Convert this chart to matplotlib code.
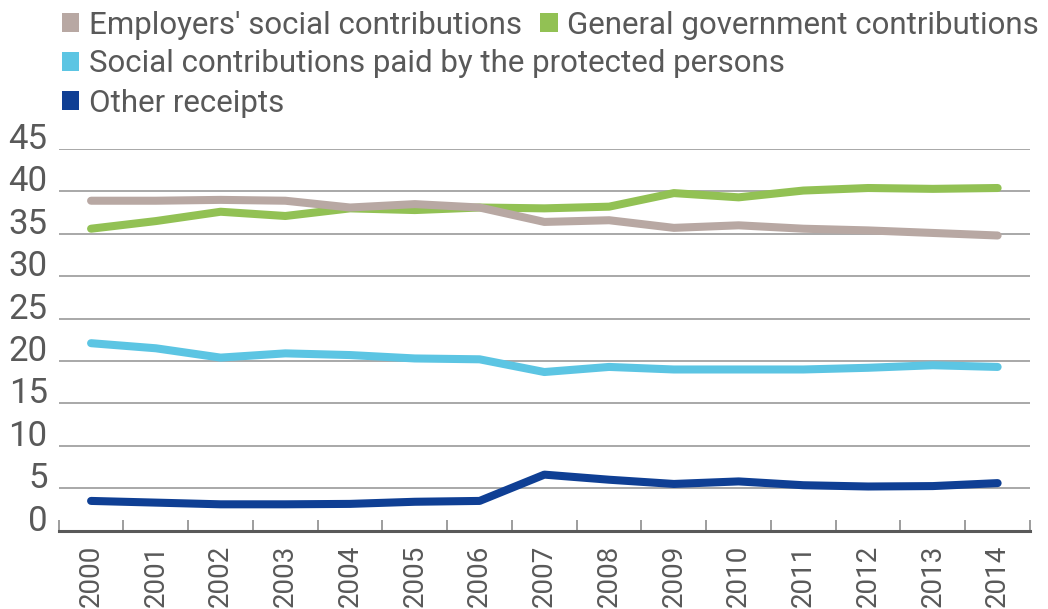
import matplotlib
matplotlib.use("Agg")
import matplotlib.pyplot as plt
from matplotlib.ticker import FixedLocator
from matplotlib.patches import Patch

years = ["2000", "2001", "2002", "2003", "2004", "2005", "2006", "2007",
         "2008", "2009", "2010", "2011", "2012", "2013", "2014"]
employers = [38.9, 38.9, 39.0, 38.9, 38.1, 38.5, 38.1, 36.4, 36.6, 35.7, 36.0, 35.6, 35.4, 35.1, 34.8]
government = [35.6, 36.5, 37.6, 37.1, 38.0, 37.8, 38.1, 38.0, 38.2, 39.8, 39.3, 40.1, 40.4, 40.3, 40.4]
protected = [22.1, 21.5, 20.4, 20.9, 20.7, 20.3, 20.2, 18.7, 19.3, 19.0, 19.0, 19.0, 19.2, 19.5, 19.3]
other = [3.5, 3.3, 3.1, 3.1, 3.15, 3.4, 3.5, 6.6, 6.0, 5.5, 5.8, 5.35, 5.2, 5.25, 5.6]
yticks = [0, 5, 10, 15, 20, 25, 30, 35, 40, 45]

names = ["Employers' social contributions", "General government contributions",
         "Social contributions paid by the protected persons", "Other receipts"]
colors = ["#b8a8a3", "#92c154", "#5cc5e3", "#0f3f94"]

TXT = "#595959"
FONT = ["Roboto", "DejaVu Sans"]
plt.rcParams['font.family'] = FONT

W, H = 1048, 609
fig = plt.figure(figsize=(W / 100, H / 100), dpi=100)
left, right, bottom, top = 58.7, 1030, 530.6, 149
ax = fig.add_axes([left / W, 1 - bottom / H, (right - left) / W, (bottom - top) / H])

x = list(range(len(years)))
for s, c in zip([other, protected, government, employers],
                [colors[3], colors[2], colors[1], colors[0]]):
    ax.plot(x, s, color=c, lw=5.8, solid_capstyle='round', solid_joinstyle='round', zorder=3)

ax.set_xlim(-0.5, len(years) - 0.5)
ax.set_ylim(0, 45)
ax.set_yticks(yticks)
ax.set_yticklabels([str(v) for v in yticks], fontsize=25, color=TXT, va='baseline', family=FONT)
ax.tick_params(axis='y', length=0, pad=8)
ax.yaxis.grid(True, color="#a8a8a8", lw=1.4)
ax.set_axisbelow(True)

ax.set_xticks(x)
ax.set_xticklabels(years, rotation=90, fontsize=20, color=TXT, family=FONT)
ax.tick_params(axis='x', which='major', length=0, pad=10)
ax.xaxis.set_minor_locator(FixedLocator([i - 0.5 for i in range(len(years) + 1)]))
ax.tick_params(axis='x', which='minor', direction='in', length=8, width=1.2, color="#8c8c8c")

for sp in ['top', 'right', 'left']:
    ax.spines[sp].set_visible(False)
ax.spines['bottom'].set_color("#595959")
ax.spines['bottom'].set_linewidth(2.2)
ax.spines['bottom'].set_zorder(4)

def handles(idx):
    return [Patch(facecolor=colors[i], edgecolor='none') for i in idx], [names[i] for i in idx]

legkw = dict(frameon=False, labelcolor=TXT, handlelength=0.55, handleheight=0.55,
             handletextpad=0.3, columnspacing=0.6, borderpad=0, borderaxespad=0,
             prop={'family': FONT, 'size': 22.5})
rows = [([0, 1], 25), ([2], 64), ([3], 103)]
for idx, yc in rows:
    h, l = handles(idx)
    fig.legend(h, l, ncol=len(idx), loc='center left',
               bbox_to_anchor=(62 / W, 1 - yc / H), **legkw)

fig.savefig("out.png", dpi=100)
